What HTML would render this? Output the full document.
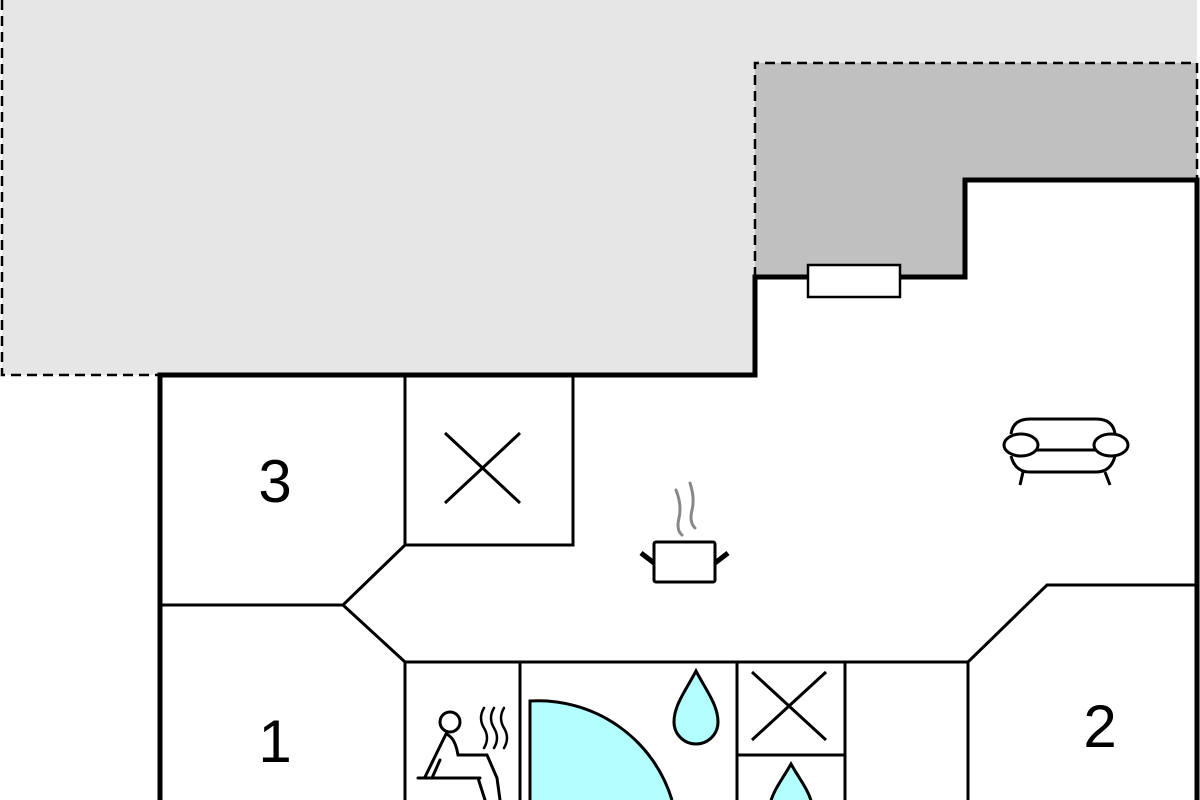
<!DOCTYPE html>
<html><head><style>html,body{margin:0;padding:0;background:#fff}svg{display:block}</style></head><body>
<svg width="1200" height="800" viewBox="0 0 1200 800" xmlns="http://www.w3.org/2000/svg">
<rect x="0" y="0" width="1200" height="800" fill="#fff"/>
<path d="M2 0 H1197 V180 H965 V277 H755 V375 H2 Z" fill="#e6e6e6"/>
<path d="M755 63 H1197 V180 H965 V277 H755 Z" fill="#c0c0c0"/>
<g fill="none" stroke="#000" stroke-width="2.5" stroke-dasharray="10,6">
<path d="M2 0 V375 H160"/>
<path d="M755 277 V63 H1197 V180"/>
</g>
<g fill="none" stroke="#000" stroke-width="3">
<path d="M405 375 V545 M573 375 V545 H405 L343 605 H160 M343 605 L405 662 H968 L1047 585 H1197"/>
<path d="M405 662 V800 M520 662 V800 M737 662 V800 M845 662 V800 M968 662 V800 M737 755 H845"/>
<path d="M445 433 L520 503 M520 433 L445 503"/>
<path d="M752 672 L826 740 M826 672 L752 740"/>
</g>
<path d="M530 800 V701 A140 140 0 0 1 672 800" fill="#b3ffff" stroke="#000" stroke-width="3"/>
<path d="M696 671 C686 690 674 705 674 722 A22 22 0 0 0 718 722 C718 705 706 690 696 671 Z" fill="#b3ffff" stroke="#000" stroke-width="3"/>
<path d="M791 764 C782 780 772 792 770 805 L812 805 C810 792 800 780 791 764 Z" fill="#b3ffff" stroke="#000" stroke-width="3"/>
<g fill="none" stroke="#000" stroke-width="3" stroke-linecap="round">
<circle cx="450" cy="722" r="10"/>
<path d="M446 734 L425 777 M418 778 H480 M440 760 L432 778 M446 734 Q455 737 458 755 H487 L497 778 L500 800 M478 778 L485 800"/>
<path d="M484 708 Q478 718 484 728 Q490 738 484 748 M494 708 Q488 718 494 728 Q500 738 494 748 M504 708 Q498 718 504 728 Q510 738 504 748" stroke-width="2.5"/>
</g>
<g fill="none" stroke="#888" stroke-width="3" stroke-linecap="round">
<path d="M676 490 Q682 505 679 518 Q676 530 682 535 M690 483 Q695 498 692 510 Q689 522 695 528"/>
</g>
<g fill="none" stroke="#000" stroke-width="3">
<rect x="654" y="542" width="61" height="40" rx="2"/>
<path d="M641 553 L654 563 M728 553 L715 563" stroke-width="5"/>
<ellipse cx="1021" cy="445" rx="17" ry="11"/>
<ellipse cx="1111" cy="445" rx="17" ry="11"/>
<path d="M1011 434 Q1013 419 1030 419 H1096 Q1113 419 1115 434 M1037 450 H1095 M1011 456 Q1015 472 1030 472 H1096 Q1111 472 1115 456 M1023 472 L1020 485 M1105 472 L1110 485"/>
</g>
<g font-family="Liberation Sans, sans-serif" font-size="60" text-anchor="middle" fill="#000">
<text x="275" y="502">3</text>
<text x="275" y="762">1</text>
<text x="1100" y="747">2</text>
</g>
<path d="M160 800 V375 H755 V277 H965 V180 H1197 V800" fill="none" stroke="#000" stroke-width="5"/>
<rect x="808" y="265" width="92" height="32" fill="#ffffff" stroke="#000" stroke-width="2.5"/>
</svg>
</body></html>
